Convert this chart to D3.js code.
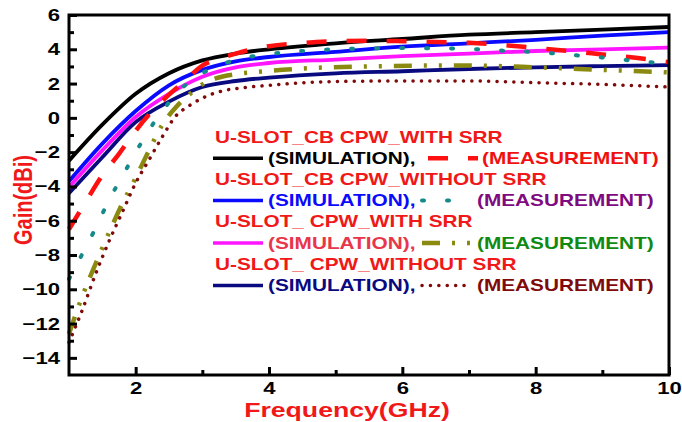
<!DOCTYPE html>
<html>
<head>
<meta charset="utf-8">
<script src="https://cdn.jsdelivr.net/npm/d3@7"></script>
<style>
  body { margin: 0; background: #fff; }
  text { font-family: "Liberation Sans", Arial, sans-serif; font-weight: bold; }
</style>
</head>
<body>
<div id="chart"></div>
<script>
// gain curves (x = GHz, y = dBi)
const simFreq    = [1, 1.5, 2, 2.5, 3, 3.5, 4, 5, 6, 7, 8, 9, 10];
const simCbSrr   = [-2.5, -0.4, 1.4, 2.6, 3.35, 3.75, 4.0, 4.35, 4.6, 4.85, 5.0, 5.15, 5.3];
const simCbNoSrr = [-3.7, -1.5, 0.4, 1.9, 2.8, 3.3, 3.55, 3.85, 4.15, 4.35, 4.55, 4.8, 5.0];
const simSrr     = [-4.05, -1.9, 0.05, 1.4, 2.4, 2.95, 3.2, 3.4, 3.6, 3.75, 3.9, 4.0, 4.1];
const simNoSrr   = [-4.4, -2.3, -0.25, 0.95, 1.8, 2.15, 2.35, 2.6, 2.72, 2.85, 2.95, 3.02, 3.08];

const measCbSrrFreq = [1, 1.25, 1.5, 1.75, 2, 2.25, 2.5, 2.75, 3, 3.25, 3.5, 4, 4.5, 5, 5.5, 6, 6.5, 7, 7.5, 8, 8.5, 9, 9.5, 10];
const measCbSrr     = [-6.5, -4.9, -3.35, -2.1, -0.75, 0.4, 1.35, 2.2, 3.05, 3.45, 3.75, 4.18, 4.37, 4.47, 4.5, 4.47, 4.42, 4.38, 4.25, 4.08, 3.9, 3.7, 3.5, 3.25];

const measCbNoSrrFreq = [1, 1.15, 1.3, 1.45, 1.6, 1.75, 1.93, 2.1, 2.28, 2.5, 2.8, 3.2, 3.55, 4, 4.5, 5, 6, 7, 7.5, 8, 8.5, 9, 9.5, 10];
const measCbNoSrr     = [-9.4, -8.3, -7.2, -6.0, -4.8, -3.74, -2.5, -1.35, -0.24, 0.9, 2.1, 2.97, 3.43, 3.72, 3.9, 4.0, 4.07, 4.02, 3.92, 3.84, 3.68, 3.52, 3.32, 3.15];

const measSrrFreq = [1, 1.2, 1.4, 1.6, 1.8, 2.0, 2.2, 2.4, 2.6, 2.8, 3.0, 3.2, 3.5, 3.8, 4.2, 4.5, 5.5, 6.5, 7, 8, 9, 10];
const measSrr     = [-12.6, -10.4, -8.5, -6.7, -5.0, -3.5, -1.9, -0.4, 0.6, 1.35, 1.95, 2.3, 2.55, 2.67, 2.8, 2.88, 3.0, 3.05, 3.05, 2.95, 2.8, 2.65];

const measNoSrrFreq = [1, 1.2, 1.4, 1.6, 1.8, 2.0, 2.2, 2.4, 2.6, 2.8, 3.0, 3.3, 3.6, 4, 5, 6, 7, 8, 9, 10];
const measNoSrr     = [-13.1, -11.2, -9.1, -7.2, -5.5, -3.8, -2.45, -1.1, 0.1, 0.7, 1.15, 1.57, 1.75, 1.9, 2.12, 2.15, 2.15, 2.05, 1.95, 1.8];

const xMajor = [2, 4, 6, 8, 10];
const xMinor = [3, 5, 7, 9];
const yMajor = d3.range(-14, 7, 2);
const yMinor = d3.range(-13, 6, 2);

const headers = ["U-SLOT_CB CPW_WITH SRR", "U-SLOT_CB CPW_WITHOUT SRR", "U-SLOT_ CPW_WITH SRR", "U-SLOT_ CPW_WITHOUT SRR"];
const simLabel = "(SIMULATION),";
const measLabel = "(MEASUREMENT)";

const margin = {top: 15, right: 13, bottom: 47, left: 69};
const width = 600;
const height = 360;
const stretch = 1.3; // the figure's lettering is wide

const svg = d3.select("#chart").append("svg")
    .attr("width", width + margin.left + margin.right)
    .attr("height", height + margin.top + margin.bottom);

const chart = svg.append("g")
    .attr("transform", "translate(" + margin.left + "," + margin.top + ")");

const x = d3.scaleLinear().domain([1, 10]).range([0, width]);
const y = d3.scaleLinear().domain([-15, 6]).range([height, 0]);

const line = d3.line()
    .x(d => x(d[0]))
    .y(d => y(d[1]))
    .curve(d3.curveMonotoneX);

const pair = (xs, ys) => xs.map((v, i) => [v, ys[i]]);

const series = [
  {data: pair(simFreq, simCbSrr),   color: "#000000", width: 3.8, dash: null},
  {data: pair(simFreq, simCbNoSrr), color: "#0a0aff", width: 3.8, dash: null},
  {data: pair(simFreq, simSrr),     color: "#ff14ff", width: 3.8, dash: null},
  {data: pair(simFreq, simNoSrr),   color: "#0a0a80", width: 3.8, dash: null},
  {data: pair(measCbSrrFreq, measCbSrr),     color: "#ff1010", width: 4.5, dash: "20,20", cap: "butt"},
  {data: pair(measCbNoSrrFreq, measCbNoSrr), color: "#158a8a", width: 4,   dash: "2,23", cap: "round"},
  {data: pair(measSrrFreq, measSrr),         color: "#8a8a10", width: 4.5, dash: "18,12,3,12,3,12", cap: "butt"},
  {data: pair(measNoSrrFreq, measNoSrr),     color: "#800a0a", width: 3.5, dash: "0.1,8.3", cap: "round"}
];

chart.append("g")
  .selectAll("path")
  .data(series)
  .enter().append("path")
    .attr("d", d => line(d.data))
    .attr("fill", "none")
    .attr("stroke", d => d.color)
    .attr("stroke-width", d => d.width)
    .attr("stroke-dasharray", d => d.dash)
    .attr("stroke-linecap", d => d.cap || "butt");

// axes, ticks pointing inward
const xAxis = chart.append("g")
    .attr("transform", "translate(0," + height + ")")
    .call(d3.axisBottom(x).tickValues(xMajor).tickSize(-8));
chart.append("g")
    .attr("transform", "translate(0," + height + ")")
    .call(d3.axisBottom(x).tickValues(xMinor).tickSize(-5).tickFormat(""));
const yAxis = chart.append("g")
    .call(d3.axisLeft(y).tickValues(yMajor).tickSize(-8));
chart.append("g")
    .call(d3.axisLeft(y).tickValues(yMinor).tickSize(-5).tickFormat(""));

chart.selectAll(".domain").remove();
chart.selectAll(".tick line").attr("stroke", "#000").attr("stroke-width", 3);

xAxis.selectAll("text")
    .attr("y", 19).attr("dy", null)
    .attr("font-size", 17)
    .attr("fill", "#000")
    .attr("transform", "scale(" + stretch + ",1)");
yAxis.selectAll("text")
    .attr("x", -9 / stretch)
    .attr("font-size", 17)
    .attr("fill", "#000")
    .attr("transform", "scale(" + stretch + ",1)");

chart.append("rect")
    .attr("width", width)
    .attr("height", height)
    .attr("fill", "none")
    .attr("stroke", "#000")
    .attr("stroke-width", 3);

// axis titles
svg.append("text")
    .attr("transform", "translate(" + (margin.left + width / 2 - 22) + ",417) scale(" + stretch + ",1)")
    .attr("text-anchor", "middle")
    .attr("font-size", 20.5)
    .attr("fill", "#f01818")
    .text("Frequency(GHz)");

svg.append("text")
    .attr("transform", "translate(32,200) scale(" + stretch + ",1) rotate(-90)")
    .attr("text-anchor", "middle")
    .attr("font-size", 20)
    .attr("fill", "#f01818")
    .text("Gain(dBi)");

// legend
const simTextColors = ["#000000", "#0a0aff", "#e8364a", "#0a0a80"];
const measTextColors = ["#f01010", "#800a80", "#108a10", "#800a0a"];
const measSample = [[428, 478], [422, 450], [422, 472], [422, 470]];
const measTextX = [482, 477, 477, 477];

const legend = svg.append("g");
headers.forEach((h, i) => {
  const yh = 137 + i * 42.4;
  const ys = yh + 21.2;

  legend.append("text")
      .attr("transform", "translate(215," + (yh + 5.5) + ") scale(" + stretch + ",1)")
      .attr("font-size", 16)
      .attr("fill", "#f01818")
      .text(h);

  legend.append("line")
      .attr("x1", 213).attr("x2", 263)
      .attr("y1", ys).attr("y2", ys)
      .attr("stroke", series[i].color)
      .attr("stroke-width", 3.5);

  legend.append("text")
      .attr("transform", "translate(268," + (ys + 5.5) + ") scale(" + stretch + ",1)")
      .attr("font-size", 16)
      .attr("fill", simTextColors[i])
      .text(simLabel);

  const m = series[i + 4];
  legend.append("line")
      .attr("x1", measSample[i][0]).attr("x2", measSample[i][1])
      .attr("y1", ys).attr("y2", ys)
      .attr("stroke", m.color)
      .attr("stroke-width", m.width)
      .attr("stroke-dasharray", m.dash)
      .attr("stroke-linecap", m.cap);

  legend.append("text")
      .attr("transform", "translate(" + measTextX[i] + "," + (ys + 5.5) + ") scale(" + stretch + ",1)")
      .attr("font-size", 16)
      .attr("fill", measTextColors[i])
      .text(measLabel);
});
</script>
</body>
</html>
